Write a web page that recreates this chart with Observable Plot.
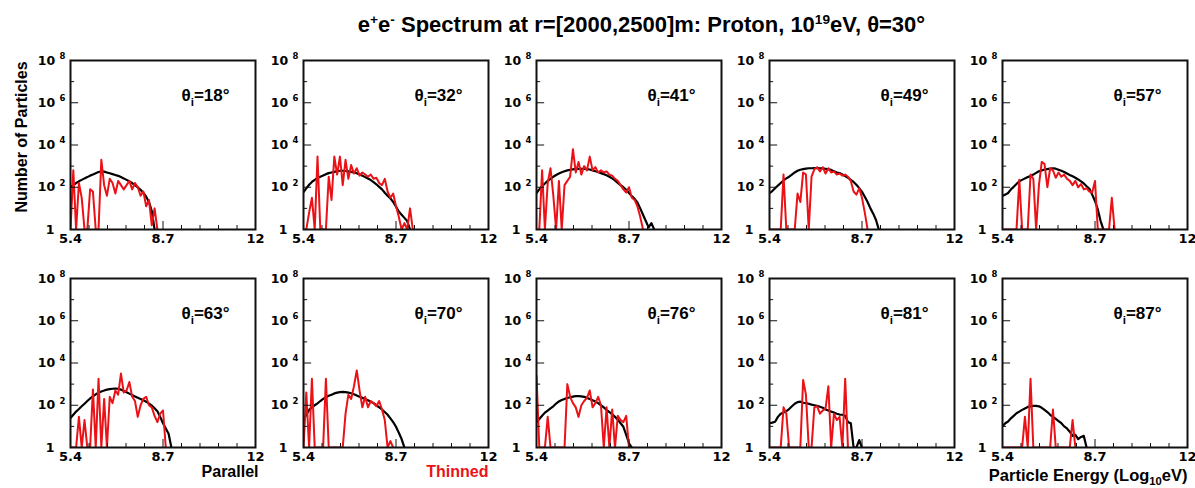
<!DOCTYPE html>
<html><head><meta charset="utf-8">
<script src="https://cdn.jsdelivr.net/npm/d3@7"></script>
<script src="https://cdn.jsdelivr.net/npm/@observablehq/plot@0.6"></script>
<style>
body{margin:0;background:#fff;}
#wrap{position:relative;width:1195px;height:488px;font-family:"DejaVu Sans",sans-serif;overflow:hidden;}
#title{position:absolute;top:12px;left:0;width:1195px;padding-left:88px;box-sizing:border-box;text-align:center;font-family:"Liberation Sans",Arial,sans-serif;font-weight:bold;font-size:22px;line-height:26px;white-space:nowrap;color:#000;}
#title .sup{font-size:0.62em;position:relative;top:-0.62em;}
#chart{position:absolute;top:40px;left:0;}
</style></head>
<body><div id="wrap"><div id="title">e<span class="sup">+</span>e<span class="sup">-</span> Spectrum at r=[2000,2500]m: Proton, 10<span class="sup">19</span>eV, θ=30°</div><div id="chart"></div></div>
<script>
// ---- data (values are log10 of the number of particles) ----
const energyBins = [5.4,5.5,5.6,5.7,5.8,5.9,6.0,6.1,6.2,6.3,6.4,6.5,6.6,6.7,6.8,6.9,7.0,7.1,7.2,7.3,7.4,7.5,7.6,7.7,7.8,7.9,8.0,8.1,8.2,8.3,8.4,8.5,8.6,8.7,8.8,8.9,9.0,9.1,9.2,9.3,9.4,9.5,9.6];
const incidenceAngles = [18,32,41,49,57,63,70,76,81,87];

const parallel18 = [2.0,2.1,2.2,2.28,2.35,2.42,2.48,2.55,2.6,2.66,2.72,2.75,2.74,2.7,2.66,2.62,2.58,2.54,2.48,2.42,2.35,2.28,2.2,2.1,2.0,1.88,1.73,1.55,1.3,0.87,0];
const thinned18  = [0,2.8,0,2.2,1.5,0,0,1.9,1.8,0,0,3.3,2.1,1.6,2.4,2.2,1.7,2.3,2.1,1.9,2.1,2.3,1.9,2.2,2.0,1.6,1.8,1.1,1.4,0.2,1.0,0];
const parallel32 = [1.77,1.95,2.12,2.25,2.35,2.44,2.5,2.56,2.62,2.67,2.7,2.73,2.76,2.78,2.78,2.77,2.75,2.73,2.7,2.66,2.61,2.55,2.48,2.41,2.34,2.24,2.14,2.02,1.9,1.74,1.6,1.47,1.3,1.08,0.85,0.7,0.55,0.4,0];
const thinned32  = [0,0,0.8,1.5,0,3.45,0,0,0,2.5,1.4,3.45,2.6,3.45,2.1,3.3,2.4,3.05,2.65,2.9,2.55,2.7,2.6,2.5,2.6,2.4,2.45,2.2,2.1,2.4,1.8,1.5,1.7,1.1,0.6,0,0.3,0,1.0,0];
const parallel41 = [1.72,1.9,2.05,2.18,2.3,2.4,2.5,2.58,2.65,2.71,2.76,2.8,2.83,2.85,2.87,2.87,2.87,2.87,2.86,2.84,2.8,2.76,2.72,2.67,2.62,2.57,2.5,2.42,2.32,2.21,2.1,2.0,1.88,1.73,1.58,1.45,1.28,1.0,0.7,0.4,0.1,0.3,0];
const thinned41  = [0,0,2.8,0,2.2,2.9,1.6,0,2.3,0,2.1,2.3,2.5,3.8,2.7,3.2,2.6,3.0,2.8,3.45,2.8,2.95,2.7,2.8,2.7,2.75,2.6,2.55,2.4,2.3,2.1,1.9,1.75,2.0,1.5,1.4,1.1,0.6,0];
const parallel49 = [1.72,1.82,1.95,2.08,2.2,2.32,2.42,2.5,2.6,2.7,2.78,2.83,2.86,2.88,2.9,2.9,2.91,2.91,2.9,2.89,2.87,2.85,2.82,2.76,2.7,2.67,2.6,2.53,2.45,2.35,2.25,2.12,1.96,1.78,1.55,1.3,1.0,0.75,0.45,0];
const thinned49  = [0,0,0,0,0,2.6,0,0,0,0,1.7,1.3,2.7,2.6,0,2.5,2.85,2.95,2.75,2.95,2.65,2.9,2.7,2.75,2.6,2.65,2.55,2.6,2.5,2.3,1.8,1.65,1.95,1.5,0.8,0];
const parallel57 = [1.6,1.65,1.73,1.9,2.02,2.15,2.28,2.35,2.42,2.48,2.53,2.6,2.68,2.76,2.8,2.84,2.86,2.88,2.9,2.88,2.83,2.78,2.72,2.65,2.58,2.52,2.45,2.37,2.28,2.18,2.05,1.93,1.65,1.35,0.95,0.4,0];
const thinned57  = [0,0,0,0,0,0,2.35,0,0,0,2.6,2.4,0,2.1,3.2,3.1,2.0,2.9,2.8,2.45,2.7,2.5,2.6,2.4,2.3,2.1,2.3,2.0,2.15,1.9,1.95,1.8,1.75,2.3,0,0,0,0,0,1.5,0];
const parallel63 = [1.4,1.55,1.7,1.82,1.95,2.07,2.2,2.32,2.42,2.52,2.59,2.65,2.7,2.74,2.76,2.78,2.79,2.78,2.74,2.68,2.62,2.55,2.48,2.42,2.36,2.3,2.24,2.17,2.08,1.98,1.86,1.72,1.45,1.15,0.9,0.65,0];
const thinned63  = [0,0,0,1.45,0,1.3,0,0,2.75,0,3.25,0,2.3,0,2.4,2.1,2.7,2.5,3.5,2.6,2.7,3.1,2.4,2.2,1.45,2.0,2.3,2.4,2.0,1.9,1.5,1.2,1.6,1.75,0];
const parallel70 = [1.3,1.55,1.78,1.9,2.0,2.09,2.2,2.3,2.38,2.45,2.5,2.56,2.6,2.62,2.63,2.62,2.6,2.57,2.52,2.46,2.4,2.35,2.3,2.24,2.17,2.1,2.0,1.9,1.8,1.68,1.55,1.38,1.2,0.98,0.7,0.4,0];
const thinned70  = [0,2.6,0,3.25,0,0,0,0,3.25,0,0,0,0,0,0,1.6,2.5,2.3,2.9,3.65,2.7,1.9,2.4,1.9,2.2,2.1,1.95,2.2,1.8,1.3,0,0.3,0];
const parallel76 = [1.2,1.35,1.5,1.65,1.75,1.85,1.95,2.08,2.18,2.25,2.3,2.34,2.38,2.41,2.43,2.43,2.42,2.4,2.35,2.3,2.24,2.18,2.1,2.0,1.9,1.78,1.68,1.57,1.45,1.32,1.15,0.98,0.6,0.2,0];
const thinned76  = [3.4,0,0,0,1.45,0,0,0,0,0,0,3.0,2.4,2.1,1.9,1.45,2.0,2.2,2.35,2.7,1.9,2.1,2.4,2.0,0,1.9,0,1.8,0,1.5,1.3,1.2,1.5,0];
const parallel81 = [1.15,1.18,1.22,1.45,1.6,1.65,1.72,1.82,1.95,2.07,2.15,2.17,2.12,2.1,2.07,2.03,2.0,1.97,1.93,1.88,1.8,1.75,1.7,1.66,1.6,1.56,1.55,1.5,1.2,1.15,0,0,0.35,0];
const thinned81  = [0,0,0,0,0,1.9,1.6,0,0,0,0,0,3.2,2.5,0,0,1.9,1.95,1.6,1.75,1.85,2.9,0,1.6,1.3,1.45,0,3.25,0];
const parallel87 = [1.0,1.15,1.23,1.38,1.5,1.62,1.7,1.78,1.85,1.92,1.95,1.97,1.97,1.95,1.88,1.78,1.68,1.55,1.45,1.35,1.25,1.15,1.0,0.9,0.75,0.55,0.6,0.4,0.5,0.55,0];
const thinned87  = [0,0,0,0,0,0,0,0,1.45,0,3.25,0,0,0,0,0,0,0,1.8,0,0,0,0,0,0,1.3,0];

// ---- axes ----
const yMajorTicks = [0,2,4,6,8];
const yMinorTicks = [1,3,5,7];
const yPowerLabels = ["10 ^{2}","10 ^{4}","10 ^{6}","10 ^{8}"];
const yPowerTicks = [2,4,6,8];
const xMajorTicks = [5.4,8.7,12];
const xTickLabels = ["5.4","8.7","12"];
const xMinorTicks = [6.06,6.72,7.38,8.04,9.36,10.02,10.68,11.34];
const yTitle = "Number of Particles";
const legendParallel = "Parallel";
const legendThinned = "Thinned";
const xTitle = "Particle Energy (Log_{10}eV)";

// ---- build tables ----
const parallelSeries = [parallel18,parallel32,parallel41,parallel49,parallel57,parallel63,parallel70,parallel76,parallel81,parallel87];
const thinnedSeries = [thinned18,thinned32,thinned41,thinned49,thinned57,thinned63,thinned70,thinned76,thinned81,thinned87];
const panels = incidenceAngles.map((angle, p) => ({angle, col: p % 5, row: Math.floor(p / 5)}));
const toRows = (series) => series.flatMap((vals, p) => vals.map((v, i) => ({col: panels[p].col, row: panels[p].row, energy: energyBins[i], logN: v})));
const parallelRows = toRows(parallelSeries);
const thinnedRows = toRows(thinnedSeries);

const RED = "#ea1217";
const SANS = "Liberation Sans, Arial, sans-serif";
const W = 1195, H = 448, mL = 68, mR = 6, mT = 19, mB = 40;
const padX = 0.205, padY = 0.2237;
const bw = (W - mL - mR) / (5 - padX) * (1 - padX);
const bh = (H - mT - mB) / (2 - padY) * (1 - padY);

const svg = Plot.plot({
  width: W, height: H,
  marginLeft: mL, marginRight: mR, marginTop: mT, marginBottom: mB,
  facet: {marginTop: 0, marginRight: 0, marginBottom: 0, marginLeft: 0},
  fx: {domain: [0,1,2,3,4], axis: null, paddingInner: padX, paddingOuter: 0},
  fy: {domain: [0,1], axis: null, paddingInner: padY, paddingOuter: 0},
  x: {domain: [5.4, 12], axis: null},
  y: {domain: [0, 8], axis: null},
  style: {fontFamily: "DejaVu Sans", color: "#000", background: "#fff", overflow: "visible"},
  marks: [
    Plot.line(parallelRows, {fx: "col", fy: "row", x: "energy", y: "logN", stroke: "#000", strokeWidth: 2.2, clip: true}),
    Plot.line(thinnedRows, {fx: "col", fy: "row", x: "energy", y: "logN", stroke: RED, strokeWidth: 2, clip: true}),
    Plot.frame({stroke: "#111", strokeWidth: 2}),
    Plot.tickY(yMajorTicks, {y: d => d, stroke: "#111", insetRight: bw - 9}),
    Plot.tickY(yMinorTicks, {y: d => d, stroke: "#111", insetRight: bw - 5}),
    Plot.tickX(xMajorTicks, {x: d => d, stroke: "#111", insetTop: bh - 9}),
    Plot.tickX(xMinorTicks, {x: d => d, stroke: "#111", insetTop: bh - 5}),
    Plot.text(yPowerTicks, {y: d => d, text: (d, i) => yPowerLabels[i], frameAnchor: "left", textAnchor: "end", dx: -5, fontSize: 12.5, fontWeight: "bold", fill: "#000"}),
    Plot.text([0], {y: d => d, text: () => "1", frameAnchor: "left", textAnchor: "end", dx: -16, fontSize: 12.5, fontWeight: "bold", fill: "#000"}),
    Plot.text(xMajorTicks, {x: d => d, text: (d, i) => xTickLabels[i], frameAnchor: "bottom", textAnchor: "middle", dy: 13, fontSize: 13, fontWeight: "bold", fill: "#000"}),
    Plot.text(panels, {fx: "col", fy: "row", text: d => "θ_{i}=" + d.angle + "°", frameAnchor: "top-left", textAnchor: "start", lineAnchor: "bottom", dx: 111, dy: 40, fontSize: 17, fontFamily: SANS, fontWeight: "bold", fill: "#000"}),
    Plot.text([panels[0]], {fx: "col", fy: "row", text: () => yTitle, frameAnchor: "left", textAnchor: "middle", rotate: -90, dx: -49, dy: -8, fontSize: 16, fontFamily: SANS, fontWeight: "bold", fill: "#000"}),
    Plot.text([panels[5]], {fx: "col", fy: "row", text: () => legendParallel, frameAnchor: "bottom-right", textAnchor: "end", lineAnchor: "bottom", dx: 3, dy: 29, fontSize: 16, fontFamily: SANS, fontWeight: "bold", fill: "#000"}),
    Plot.text([panels[6]], {fx: "col", fy: "row", text: () => legendThinned, frameAnchor: "bottom-right", textAnchor: "end", lineAnchor: "bottom", dy: 29, fontSize: 16, fontFamily: SANS, fontWeight: "bold", fill: RED}),
    Plot.text([panels[9]], {fx: "col", fy: "row", text: () => xTitle, frameAnchor: "bottom-right", textAnchor: "end", lineAnchor: "bottom", dy: 33, fontSize: 16.5, fontFamily: SANS, fontWeight: "bold", fill: "#000"})
  ]
});

// turn _{..} and ^{..} into sub/superscript tspans
function applyScripts(root) {
  const NS = "http://www.w3.org/2000/svg";
  d3.select(root).selectAll("text").each(function() {
    const s = this.textContent;
    if (!/[_^]\{/.test(s)) return;
    const parts = s.split(/([_^]\{[^}]*\})/).filter(p => p !== "");
    this.textContent = "";
    let shift = 0;
    for (const p of parts) {
      const m = p.match(/^([_^])\{([^}]*)\}$/);
      const ts = document.createElementNS(NS, "tspan");
      if (m) {
        const target = m[1] === "^" ? -0.45 : 0.3;
        ts.setAttribute("font-size", "68%");
        ts.setAttribute("dy", ((target - shift) / 0.68).toFixed(3) + "em");
        shift = target;
        ts.textContent = m[2];
      } else {
        if (shift !== 0) ts.setAttribute("dy", (-shift).toFixed(3) + "em");
        shift = 0;
        ts.textContent = p;
      }
      this.appendChild(ts);
    }
  });
}
applyScripts(svg);
document.getElementById("chart").appendChild(svg);
</script>
</body></html>
